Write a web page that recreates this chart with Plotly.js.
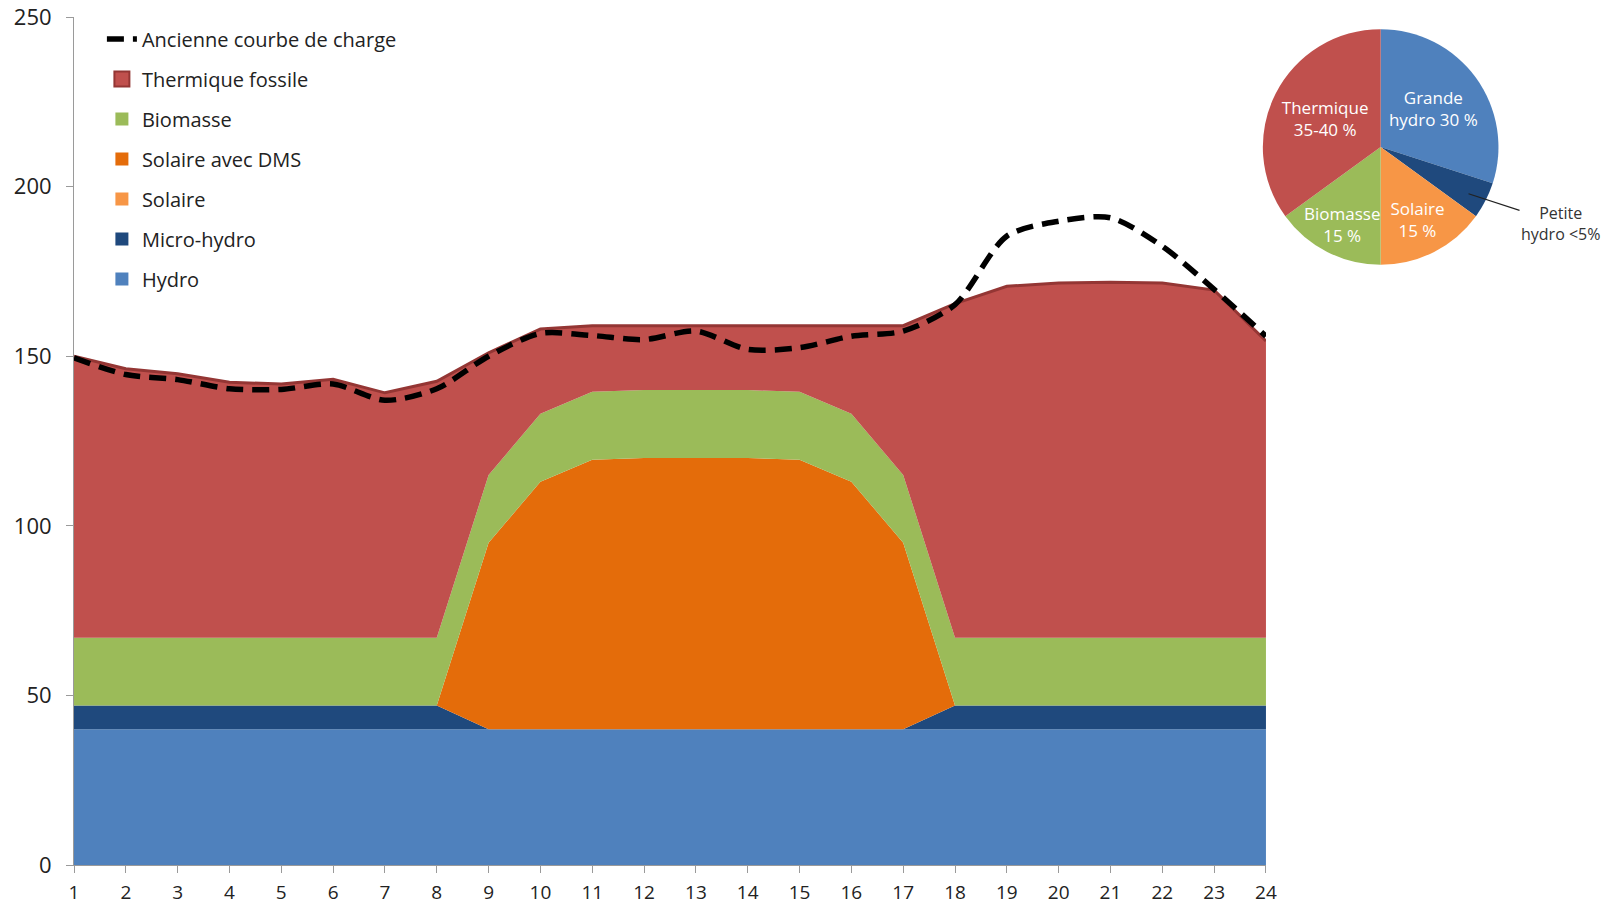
<!DOCTYPE html>
<html>
<head>
<meta charset="utf-8">
<script src="https://cdn.plot.ly/plotly-3.0.1.min.js"></script>
<style>html,body{margin:0;padding:0;background:#fff;}#chart{width:1624px;height:909px;}</style>
</head>
<body>
<div id="chart"></div>
<script>
// ---- Data ----
const hours = [1,2,3,4,5,6,7,8,9,10,11,12,13,14,15,16,17,18,19,20,21,22,23,24];
const hydro = [40,40,40,40,40,40,40,40,40,40,40,40,40,40,40,40,40,40,40,40,40,40,40,40];
const microHydro = [7,7,7,7,7,7,7,7,0,0,0,0,0,0,0,0,0,7,7,7,7,7,7,7];
const solaire = [0,0,0,0,0,0,0,0,0,0,0,0,0,0,0,0,0,0,0,0,0,0,0,0];
const solaireDMS = [0,0,0,0,0,0,0,0,55,73,79.5,80,80,80,79.5,73,55,0,0,0,0,0,0,0];
const biomasse = [20,20,20,20,20,20,20,20,20,20,20,20,20,20,20,20,20,20,20,20,20,20,20,20];
const thermique = [83,79.3,77.8,75.3,74.8,76.2,72.2,75.6,36,25,19.5,19,19,19,19.5,26,44,98.5,103.6,104.6,104.8,104.6,102.5,87.5];
const ancienneCharge = [149.5,144.6,143.1,140.4,140.2,141.8,137,140.4,150,156.7,156.1,154.9,157.4,152,152.5,155.9,157.4,165.2,185.4,189.8,190.8,182.4,169.7,155.9];

const seriesNames = ["Hydro","Micro-hydro","Solaire","Solaire avec DMS","Biomasse","Thermique fossile","Ancienne courbe de charge"];
const yTicks = [0,50,100,150,200,250];

const pieLabels = ["Grande hydro","Petite hydro","Solaire","Biomasse","Thermique"];
const pieValues = [30,5,15,15,35];
const pieTexts = ["Grande<br>hydro 30 %","","Solaire<br>15 %","","Thermique<br>35-40 %"];
const biomasseLabel = "Biomasse<br>15 %";
const petiteLabel = "Petite<br>hydro &lt;5%";

// ---- Styles ----
const colors = {
  hydro: "#4F81BD", micro: "#1F497D", solaire: "#F79646", dms: "#E46C0A",
  bio: "#9BBB59", thermique: "#C0504D", thermBorder: "#943634"
};
const FONT = "Open Sans, Noto Sans, sans-serif";
const seriesColors = [colors.hydro, colors.micro, colors.solaire, colors.dms, colors.bio, colors.thermique];

function area(i, y) {
  const isTherm = i === 5;
  return {
    type: "scatter", mode: "lines", x: hours, y: y, name: seriesNames[i],
    stackgroup: "one", fillcolor: seriesColors[i],
    line: {color: isTherm ? colors.thermBorder : seriesColors[i], width: isTherm ? 3 : 0},
    showlegend: false, hoverinfo: "x+y+name"
  };
}

// legend-only entries with square swatches (as in the reference legend)
function legendSwatch(i) {
  const isTherm = i === 5;
  return {
    type: "scatter", mode: "markers", x: [null], y: [null], name: seriesNames[i],
    marker: {symbol: "square", size: isTherm ? 15 : 13, color: seriesColors[i],
             line: {color: isTherm ? colors.thermBorder : seriesColors[i], width: isTherm ? 2 : 0}},
    legendgroup: "g" + i, legendrank: 100 - i, hoverinfo: "skip"
  };
}

const traces = [
  area(0, hydro), area(1, microHydro), area(2, solaire),
  area(3, solaireDMS), area(4, biomasse), area(5, thermique),
  {
    type: "scatter", mode: "lines", x: hours, y: ancienneCharge, name: seriesNames[6],
    line: {color: "#000000", width: 5.5, dash: "17px,9px", shape: "spline", smoothing: 0.8},
    legendgroup: "g6", legendrank: 1
  },
  legendSwatch(5), legendSwatch(4), legendSwatch(3), legendSwatch(2), legendSwatch(1), legendSwatch(0),
  {
    type: "pie", labels: pieLabels, values: pieValues, text: pieTexts,
    textinfo: "text", textposition: "inside", insidetextorientation: "horizontal",
    sort: false, direction: "clockwise", rotation: 0,
    marker: {colors: [colors.hydro, colors.micro, colors.solaire, colors.bio, colors.thermique], line: {width: 0}},
    textfont: {family: FONT, size: 17, color: "#ffffff"},
    domain: {x: [0.767, 0.919], y: [0.7075, 0.986]},
    showlegend: false, hoverinfo: "label+percent"
  }
];

const layout = {
  width: 1624, height: 909,
  margin: {l: 74, r: 0, t: 17, b: 44},
  paper_bgcolor: "#ffffff", plot_bgcolor: "#ffffff",
  font: {family: FONT, color: "#222222"},
  xaxis: {
    domain: [0, 0.769], range: [1, 24], tickvals: hours,
    showgrid: false, zeroline: false, showline: true, linecolor: "#9a9a9a", linewidth: 1,
    ticks: "outside", ticklen: 7, tickcolor: "#9a9a9a",
    tickfont: {family: FONT, size: 19, color: "#222222"}, ticklabelstandoff: 3
  },
  yaxis: {
    range: [0, 250], tickvals: yTicks,
    showgrid: false, zeroline: false, showline: true, linecolor: "#9a9a9a", linewidth: 1,
    ticks: "outside", ticklen: 7, tickcolor: "#9a9a9a",
    tickfont: {family: FONT, size: 22, color: "#222222"}, ticklabelstandoff: 10
  },
  showlegend: true,
  legend: {
    x: 0.018, y: 0.997, xanchor: "left", yanchor: "top",
    bgcolor: "rgba(0,0,0,0)", traceorder: "grouped", tracegroupgap: 11,
    font: {family: FONT, size: 20, color: "#222222"}
  },
  annotations: [
    {
      xref: "paper", yref: "paper", x: 0.8997, y: 0.7916,
      text: petiteLabel, showarrow: true, arrowhead: 0, arrowwidth: 1.2, arrowcolor: "#222222",
      ax: 92, ay: 30, font: {family: FONT, size: 16, color: "#333333"}, align: "center"
    },
    {
      xref: "paper", yref: "paper", x: 0.8183, y: 0.7551, xanchor: "center", yanchor: "middle",
      text: biomasseLabel, showarrow: false, align: "center",
      font: {family: FONT, size: 17, color: "#ffffff"}
    }
  ]
};

Plotly.newPlot("chart", traces, layout, {displayModeBar: false, staticPlot: true});
</script>
</body>
</html>
